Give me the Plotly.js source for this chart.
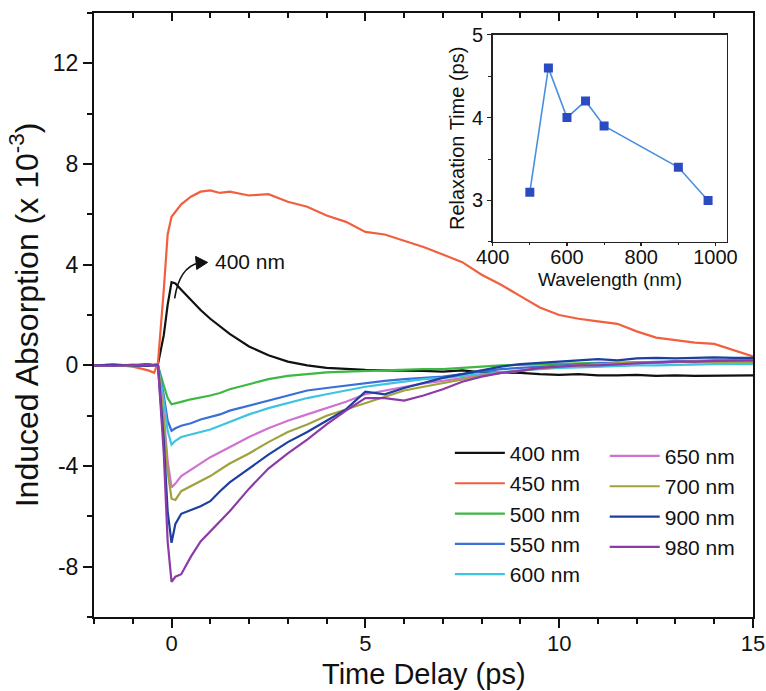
<!DOCTYPE html>
<html>
<head>
<meta charset="utf-8">
<script src="https://cdn.plot.ly/plotly-3.0.1.min.js"></script>
<style>html,body{margin:0;padding:0;background:#fff}#plot{width:766px;height:691px}</style>
</head>
<body>
<div id="plot"></div>
<script>
// Time delay (ps)
const timeDelay = [-2, -1.5, -1, -0.6, -0.45, -0.35, -0.2, -0.1, 0, 0.1, 0.25, 0.5, 0.75, 1, 1.25, 1.5, 2, 2.5, 3, 3.5, 4, 4.5, 5, 5.5, 6, 6.5, 7, 7.5, 8, 8.5, 9, 9.5, 10, 10.5, 11, 11.5, 12, 12.5, 13, 13.5, 14, 14.5, 15];

// Induced absorption (x 10^-3) per probe wavelength
const abs400 = [0, 0.02, 0, 0.05, 0, 0.05, 1.2, 2.4, 3.3, 3.25, 3.0, 2.6, 2.2, 1.85, 1.55, 1.25, 0.75, 0.4, 0.15, 0.0, -0.1, -0.15, -0.18, -0.2, -0.2, -0.22, -0.25, -0.2, -0.28, -0.3, -0.3, -0.35, -0.38, -0.35, -0.4, -0.4, -0.38, -0.42, -0.4, -0.42, -0.42, -0.4, -0.4];
const abs450 = [0, 0.03, -0.05, -0.2, -0.3, 0.1, 3.0, 5.2, 5.9, 6.1, 6.4, 6.7, 6.9, 6.95, 6.85, 6.9, 6.75, 6.8, 6.5, 6.3, 5.95, 5.7, 5.3, 5.2, 4.95, 4.7, 4.4, 4.1, 3.6, 3.2, 2.75, 2.3, 2.0, 1.85, 1.75, 1.65, 1.35, 1.1, 1.0, 0.9, 0.85, 0.6, 0.35];
const abs500 = [0, -0.02, 0.02, 0, 0.03, 0, -0.8, -1.3, -1.55, -1.5, -1.45, -1.35, -1.28, -1.2, -1.1, -0.95, -0.75, -0.55, -0.42, -0.35, -0.28, -0.25, -0.22, -0.2, -0.18, -0.15, -0.15, -0.1, -0.05, 0, 0.02, 0.05, 0.05, 0.08, 0.1, 0.1, 0.12, 0.1, 0.15, 0.12, 0.15, 0.15, 0.15];
const abs550 = [0, 0.02, -0.02, 0.03, 0, 0, -1.2, -2.2, -2.6, -2.5, -2.4, -2.3, -2.15, -2.05, -1.95, -1.8, -1.6, -1.4, -1.2, -1.0, -0.9, -0.8, -0.7, -0.62, -0.55, -0.5, -0.45, -0.35, -0.25, -0.15, -0.1, -0.05, 0, 0.05, 0.08, 0.1, 0.12, 0.15, 0.15, 0.18, 0.2, 0.2, 0.2];
const abs600 = [0, 0, 0.02, -0.02, 0, 0, -1.4, -2.6, -3.15, -3.0, -2.85, -2.75, -2.65, -2.55, -2.4, -2.25, -1.95, -1.7, -1.5, -1.3, -1.15, -1.0, -0.85, -0.75, -0.65, -0.55, -0.5, -0.42, -0.35, -0.28, -0.2, -0.15, -0.1, -0.08, -0.05, -0.02, 0, 0, 0.02, 0.02, 0.05, 0.05, 0.05];
const abs650 = [0, 0.02, 0, 0.02, -0.02, 0, -2.0, -3.8, -4.85, -4.7, -4.4, -4.15, -3.9, -3.65, -3.45, -3.25, -2.85, -2.5, -2.2, -1.95, -1.7, -1.45, -1.15, -1.0, -0.85, -0.72, -0.62, -0.5, -0.4, -0.3, -0.2, -0.12, -0.05, 0, 0.05, 0.08, 0.1, 0.12, 0.12, 0.15, 0.15, 0.18, 0.18];
const abs700 = [0, 0, -0.02, 0.02, 0, 0, -2.2, -4.2, -5.3, -5.35, -5.0, -4.8, -4.6, -4.4, -4.15, -3.9, -3.5, -3.05, -2.65, -2.35, -2.0, -1.75, -1.5, -1.25, -1.0, -0.85, -0.7, -0.55, -0.42, -0.3, -0.2, -0.12, -0.05, 0, 0.05, 0.08, 0.1, 0.12, 0.12, 0.15, 0.15, 0.15, 0.15];
const abs900 = [0, 0.02, 0, -0.02, 0.02, 0, -3.0, -5.8, -7.05, -6.3, -5.9, -5.75, -5.6, -5.4, -5.0, -4.65, -4.1, -3.55, -3.05, -2.65, -2.2, -1.75, -1.05, -1.15, -0.9, -0.7, -0.5, -0.35, -0.2, -0.05, 0.05, 0.1, 0.15, 0.2, 0.25, 0.2, 0.28, 0.3, 0.28, 0.3, 0.32, 0.3, 0.3];
const abs980 = [0, -0.02, 0.02, 0, 0.02, 0, -3.5, -7.0, -8.6, -8.4, -8.3, -7.6, -7.0, -6.6, -6.2, -5.8, -4.9, -4.1, -3.5, -2.95, -2.35, -1.8, -1.3, -1.3, -1.4, -1.2, -0.95, -0.65, -0.45, -0.3, -0.22, -0.1, -0.05, 0, 0, 0.05, 0.1, 0.12, 0.15, 0.15, 0.18, 0.2, 0.2];

const seriesNames = ['400 nm', '450 nm', '500 nm', '550 nm', '600 nm', '650 nm', '700 nm', '900 nm', '980 nm'];
const seriesColors = ['#111111', '#f0603f', '#3cb843', '#3a6fd8', '#3ec3e0', '#cf72d2', '#a0a23c', '#1d3f9e', '#8c3aa8'];

// Main y-axis tick labels (hyphen minus as in the original)
const yTickVals = [-8, -4, 0, 4, 8, 12];
const yTickText = ['-8', '-4', '0', '4', '8', '12'];

// Inset: relaxation time vs wavelength
const insetWavelength = [500, 550, 600, 650, 700, 900, 980];
const insetTau = [3.1, 4.6, 4.0, 4.2, 3.9, 3.4, 3.0];

const allSeries = [abs400, abs450, abs500, abs550, abs600, abs650, abs700, abs900, abs980];
const font = 'Liberation Sans, Arial, Helvetica, sans-serif';

const traces = allSeries.map((ys, i) => ({
  type: 'scatter', mode: 'lines', x: timeDelay, y: ys, name: seriesNames[i],
  line: {color: seriesColors[i], width: 2.2},
  legend: i < 5 ? 'legend' : 'legend2',
  xaxis: 'x', yaxis: 'y'
}));

traces.push({type: 'scatter', mode: 'lines', x: [], y: [], xaxis: 'x3', yaxis: 'y', showlegend: false, hoverinfo: 'skip'});

traces.push({
  type: 'scatter', mode: 'lines+markers', x: insetWavelength, y: insetTau,
  xaxis: 'x2', yaxis: 'y2', showlegend: false,
  line: {color: '#4a8fe0', width: 1.6},
  marker: {symbol: 'square', size: 9, color: '#2a4cc0'}
});

const axisCommon = {
  showgrid: false, zeroline: false, linecolor: '#111', linewidth: 2, mirror: true,
  ticks: 'outside', tickwidth: 2, tickcolor: '#111', ticklen: 9
};

const layout = {
  width: 766, height: 691,
  margin: {l: 94, r: 13, t: 13, b: 74},
  paper_bgcolor: '#fff', plot_bgcolor: '#fff',
  font: {family: font, color: '#111'},
  xaxis: Object.assign({}, axisCommon, {
    domain: [0, 1], anchor: 'y', range: [-2, 15], tick0: 0, dtick: 5,
    minor: {dtick: 1, ticks: 'outside', ticklen: 5, tickwidth: 2, tickcolor: '#111'},
    tickfont: {size: 22, family: font, color: '#111'}, ticklabelstandoff: -3,
    ticklabeloverflow: 'allow'
  }),
  xaxis3: {
    overlaying: 'x', anchor: 'y', side: 'top', range: [-2, 15], tick0: 0, dtick: 5,
    ticks: 'inside', ticklen: 8, tickwidth: 2, tickcolor: '#111', showticklabels: false,
    showline: false, showgrid: false, zeroline: false,
    minor: {dtick: 1, ticks: 'inside', ticklen: 5, tickwidth: 2, tickcolor: '#111'}
  },
  yaxis: Object.assign({}, axisCommon, {
    domain: [0, 1], anchor: 'x', range: [-10, 14], tickmode: 'array', tickvals: yTickVals, ticktext: yTickText,
    minor: {dtick: 2, ticks: 'outside', ticklen: 5, tickwidth: 2, tickcolor: '#111'},
    tickfont: {size: 23, family: font, color: '#111'},
    title: {text: 'Induced Absorption (x 10<sup>-3</sup>)', font: {size: 32, family: font, color: '#111'}, standoff: 5}
  }),
  xaxis2: {
    domain: [0.605, 0.96], anchor: 'y2', range: [400, 1030], tick0: 400, dtick: 200,
    showgrid: false, zeroline: false, linecolor: '#222', linewidth: 1.5, mirror: true,
    ticks: 'outside', ticklen: 3, tickwidth: 1.5, tickcolor: '#222',
    minor: {dtick: 100, ticks: 'outside', ticklen: 2, tickwidth: 1, tickcolor: '#222'},
    tickfont: {size: 20, family: font, color: '#111'}, ticklabelstandoff: -6
  },
  yaxis2: {
    domain: [0.621, 0.964], anchor: 'x2', range: [2.5, 5], tick0: 0, dtick: 1,
    showgrid: false, zeroline: false, linecolor: '#222', linewidth: 1.5, mirror: true,
    ticks: 'outside', ticklen: 4, tickwidth: 1.5, tickcolor: '#222',
    minor: {dtick: 0.5, ticks: 'outside', ticklen: 3, tickwidth: 1, tickcolor: '#222'},
    tickfont: {size: 20, family: font, color: '#111'},
    title: {text: 'Relaxation Time (ps)', font: {size: 20, family: font, color: '#111'}, standoff: 2}
  },
  legend: {
    x: 0.54, y: 0.305, xanchor: 'left', yanchor: 'top', bgcolor: 'rgba(0,0,0,0)',
    font: {size: 21, family: font, color: '#111'}, itemwidth: 50, tracegroupgap: 0
  },
  legend2: {
    x: 0.775, y: 0.30, xanchor: 'left', yanchor: 'top', bgcolor: 'rgba(0,0,0,0)',
    font: {size: 21, family: font, color: '#111'}, itemwidth: 50, tracegroupgap: 0
  },
  shapes: [
    {type: 'path', xref: 'x', yref: 'y', path: 'M 0.08 2.66 Q 0.2 3.9 0.7 4.07',
     line: {color: '#111', width: 1.6}},
    {type: 'path', xref: 'x', yref: 'y', path: 'M 0.93 4.09 L 0.62 4.33 L 0.65 3.81 Z',
     fillcolor: '#111', line: {color: '#111', width: 1}}
  ],
  annotations: [
    {x: 1.08, y: 4.13, xref: 'x', yref: 'y', xanchor: 'left', yanchor: 'middle', text: '400 nm', showarrow: false,
     font: {size: 21, family: font, color: '#111'}},
    {x: 0.5, y: -0.094, xref: 'x domain', yref: 'paper', xanchor: 'center', yanchor: 'middle',
     text: 'Time Delay (ps)', showarrow: false, font: {size: 29, family: font, color: '#111'}},
    {x: 0.5, y: 0.5596, xref: 'x2 domain', yref: 'paper', xanchor: 'center', yanchor: 'middle',
     text: 'Wavelength (nm)', showarrow: false, font: {size: 19, family: font, color: '#111'}}
  ],
  showlegend: true
};

Plotly.newPlot('plot', traces, layout, {displayModeBar: false, staticPlot: true});
</script>
</body>
</html>
